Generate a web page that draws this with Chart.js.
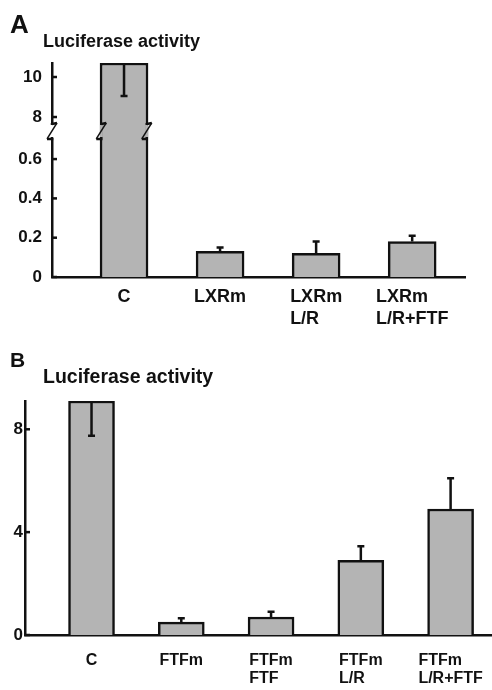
<!DOCTYPE html>
<html>
<head>
<meta charset="utf-8">
<script src="https://cdn.jsdelivr.net/npm/chart.js@4.4.0/dist/chart.umd.min.js"></script>
<style>
  html, body { margin: 0; padding: 0; background: #fff; }
  body { width: 492px; height: 690px; position: relative; overflow: hidden; }
  canvas { position: absolute; left: 0; }
  #chartA { top: 0; }
  #chartB { top: 330px; }
</style>
</head>
<body>
<canvas id="chartA" width="492" height="330"></canvas>
<canvas id="chartB" width="492" height="360"></canvas>
<script>
// ---------- panel A ----------
const catsA = [["C"], ["LXRm"], ["LXRm", "L/R"], ["LXRm", "L/R+FTF"]];
const valsA = [10.7, 0.13, 0.12, 0.18];
const errA = [9.05, 0.15, 0.18, 0.21];   // value where each error bar ends
const ticksA = [0, 0.2, 0.4, 0.6, 8, 10];

// ---------- panel B ----------
const catsB = [["C"], ["FTFm"], ["FTFm", "FTF"], ["FTFm", "L/R"], ["FTFm", "L/R+FTF"]];
const valsB = [9.1, 0.5, 0.7, 2.9, 4.9];
const errB = [7.75, 0.65, 0.9, 3.45, 6.1];
const ticksB = [0, 4, 8];

const FONT = '"Liberation Sans", Arial, Helvetica, sans-serif';
const INK = '#111';
const BAR = '#b4b4b4';

Chart.defaults.font.family = FONT;
Chart.defaults.color = INK;

// A has a broken axis: 0..0.6 runs normally, above the cut 8..10 is squeezed
const cutA = 0.743;
function squash(v) {
    return v < 1 ? v : 0.814 + (v - 8) * 0.1018;
}
const plain = v => v;

function panelPlugin(o) {
    return {
        id: 'panel' + o.letter,
        afterDatasetsDraw(chart) {
            const ctx = chart.ctx;
            const ys = chart.scales.y;
            const bars = chart.getDatasetMeta(0).data;
            ctx.save();
            ctx.strokeStyle = INK;
            ctx.lineWidth = 2.5;
            bars.forEach((bar, i) => {
                const y1 = ys.getPixelForValue(o.tf(o.vals[i]));
                const y2 = ys.getPixelForValue(o.tf(o.err[i]));
                ctx.beginPath();
                ctx.moveTo(bar.x, y1);
                ctx.lineTo(bar.x, y2);
                ctx.moveTo(bar.x - 3.5, y2);
                ctx.lineTo(bar.x + 3.5, y2);
                ctx.stroke();
            });
            ctx.restore();
        },
        afterDraw(chart) {
            const ctx = chart.ctx;
            const ys = chart.scales.y;
            const xs = chart.scales.x;
            const area = chart.chartArea;
            const bars = chart.getDatasetMeta(0).data;
            ctx.save();
            ctx.strokeStyle = INK;
            ctx.lineWidth = 2.5;

            // inward tick marks
            ys.ticks.forEach(t => {
                const py = ys.getPixelForValue(t.value);
                ctx.beginPath();
                ctx.moveTo(area.left, py);
                ctx.lineTo(area.left + 5, py);
                ctx.stroke();
            });

            // break marks
            if (o.cut !== undefined) {
                const yb = ys.getPixelForValue(o.cut);
                const zig = (ex) => {
                    ctx.lineWidth = 2.5;
                    ctx.beginPath();
                    ctx.moveTo(ex, yb - 6);
                    ctx.lineTo(ex, yb - 7);
                    ctx.lineTo(ex + 5, yb - 8);
                    ctx.stroke();
                    ctx.beginPath();
                    ctx.moveTo(ex, yb + 6);
                    ctx.lineTo(ex, yb + 8);
                    ctx.lineTo(ex - 5, yb + 8);
                    ctx.stroke();
                    ctx.lineWidth = 1.5;
                    ctx.beginPath();
                    ctx.moveTo(ex + 5, yb - 8);
                    ctx.lineTo(ex - 5, yb + 8);
                    ctx.stroke();
                };
                ctx.fillStyle = '#fff';
                ctx.fillRect(area.left - 3, yb - 7, 6, 14);
                zig(area.left);
                const b = bars[0];
                const w = b.width;
                [b.x - w / 2, b.x + w / 2 - 2.5].forEach(x0 => {
                    ctx.fillStyle = BAR;
                    ctx.fillRect(x0, yb - 7, 2.5, 14);
                    zig(x0 + 1.25);
                });
            }

            // category labels, lines left aligned inside a centred block
            ctx.fillStyle = INK;
            ctx.textAlign = 'left';
            ctx.textBaseline = 'alphabetic';
            ctx.font = 'bold ' + o.catSize + 'px ' + FONT;
            o.cats.forEach((lines, i) => {
                const cx = xs.getPixelForValue(i);
                const w = Math.max(...lines.map(s => ctx.measureText(s).width));
                lines.forEach((s, k) => {
                    ctx.fillText(s, cx - w / 2, o.catY + k * o.catLine);
                });
            });

            // panel letter and axis title
            ctx.font = 'bold ' + o.letterSize + 'px ' + FONT;
            ctx.fillText(o.letter, 10, o.letterY);
            ctx.font = 'bold ' + o.titleSize + 'px ' + FONT;
            ctx.fillText('Luciferase activity', 43, o.titleY);
            ctx.restore();
        }
    };
}

function makeChart(id, o) {
    return new Chart(document.getElementById(id), {
        type: 'bar',
        data: {
            datasets: [{
                data: o.vals.map((v, i) => ({ x: i, y: o.tf(v) })),
                backgroundColor: BAR,
                borderColor: INK,
                borderWidth: 2.5,
                barThickness: o.barW
            }]
        },
        options: {
            responsive: false,
            animation: false,
            layout: { padding: o.pad },
            plugins: {
                legend: { display: false },
                tooltip: { enabled: false }
            },
            scales: {
                x: {
                    type: 'linear',
                    min: o.xMin,
                    max: o.xMax,
                    offset: false,
                    z: 1,
                    grid: { display: false, offset: false },
                    ticks: { display: false },
                    border: { color: INK, width: 2.5 },
                    afterFit: s => { s.height = o.xH; }
                },
                y: {
                    min: 0,
                    max: o.tf(o.vals[0]),
                    afterBuildTicks: s => { s.ticks = o.ticks.map(t => ({ value: o.tf(t) })); },
                    ticks: {
                        callback: (v, i) => String(o.ticks[i]),
                        font: { size: 17, weight: 'bold' },
                        color: INK,
                        padding: o.tickPad
                    },
                    grid: { display: false, drawTicks: false },
                    border: { color: INK, width: 2.5 },
                    afterFit: s => { s.width = o.yW; }
                }
            }
        },
        plugins: [panelPlugin(o)]
    });
}

makeChart('chartA', {
    letter: 'A', letterSize: 26, letterY: 33, titleSize: 18, titleY: 47,
    cats: catsA, vals: valsA, err: errA, ticks: ticksA, tf: squash, cut: cutA,
    catSize: 18, catY: 302, catLine: 21.5,
    barW: 48, xMin: -0.75, xMax: 3.55, xH: 53, yW: 52, tickPad: 10,
    pad: { top: 63, right: 27, left: 0, bottom: 0 }
});

makeChart('chartB', {
    letter: 'B', letterSize: 21, letterY: 37, titleSize: 19.5, titleY: 53,
    cats: catsB, vals: valsB, err: errB, ticks: ticksB, tf: plain,
    catSize: 16, catY: 335, catLine: 18,
    barW: 46, xMin: -0.741, xMax: 4.45, xH: 55, yW: 25, tickPad: 2,
    pad: { top: 71, right: 1, left: 0, bottom: 0 }
});
</script>
</body>
</html>
